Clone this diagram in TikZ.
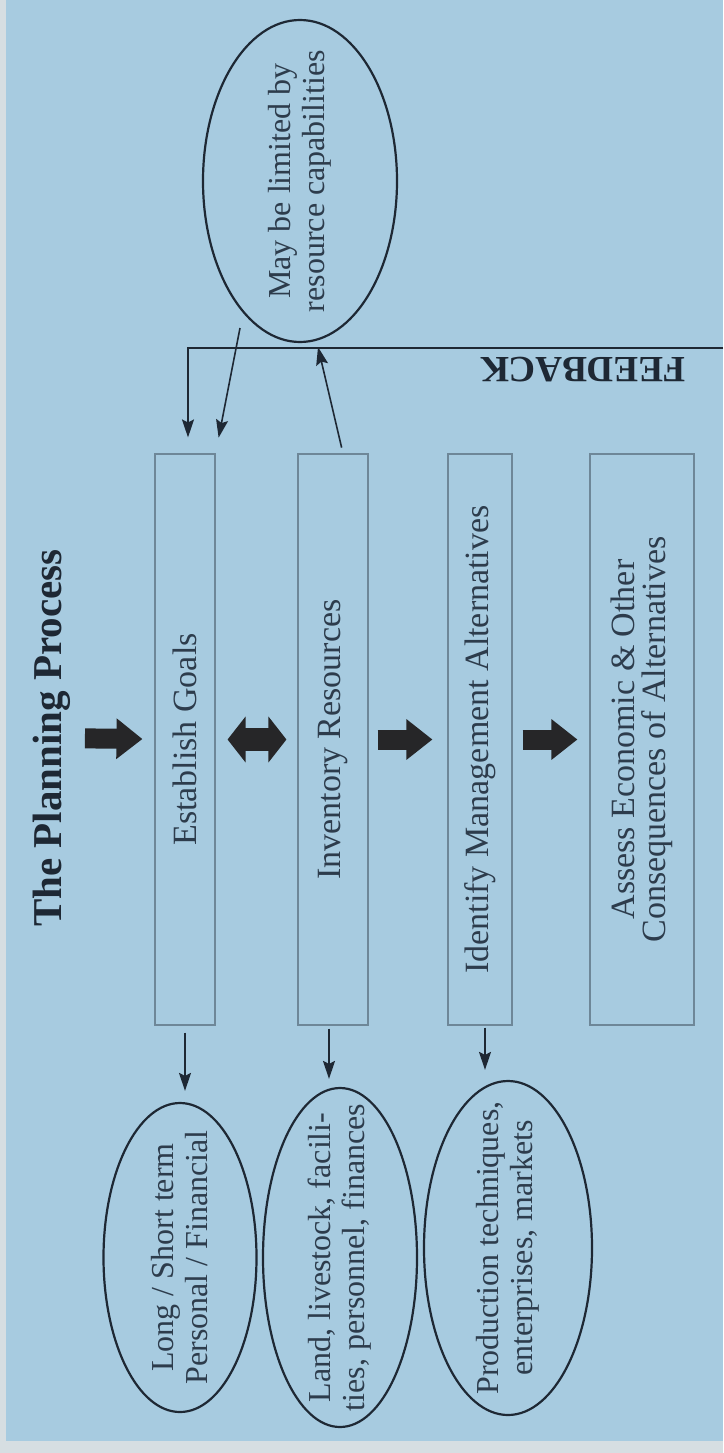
\documentclass[tikz,border=0pt]{standalone}
\usepackage{fontspec}
\setmainfont{Liberation Serif}
\usetikzlibrary{shapes.geometric,arrows.meta}
\definecolor{paper}{RGB}{167,203,224}
\definecolor{rim}{RGB}{214,222,226}
\definecolor{ink}{RGB}{30,40,52}
\definecolor{words}{RGB}{45,60,76}
\definecolor{frame}{RGB}{110,135,152}
\definecolor{heavy}{RGB}{38,38,40}
\tikzset{
    stage/.style = {
        draw=frame, line width=1.1pt, rectangle, rotate=90,
        minimum width=571pt, minimum height=#1, inner sep=0pt,
        text=words, align=center, font=\fontsize{34}{31}\selectfont
    },
    note/.style = {
        draw=ink, line width=2.2pt, ellipse, rotate=90,
        inner sep=-60pt, text=words, align=center,
        font=\fontsize{32}{34}\selectfont
    },
    feed/.style = {
        draw=ink, line width=1.6pt,
        -{Stealth[length=18pt,width=12pt,inset=3pt]}
    },
    push/.style = {
        draw=heavy, line width=20pt,
        -{Triangle[length=26pt,width=39pt]}
    },
    swap/.style = {
        draw=heavy, line width=23pt,
        {Triangle[length=18pt,width=45pt]}-{Triangle[length=18pt,width=45pt]}
    }
}

\begin{document}
\begin{tikzpicture}[x=1pt,y=-1pt]
    % Paper
    \useasboundingbox (0,0) rectangle (723,1453);
    \fill[paper] (0,0) rectangle (723,1453);
    \fill[rim] (0,0) rectangle (6,1453);
    \fill[rim] (0,1441) rectangle (723,1453);

    \newcommand\YB{739.5}
    %Title
    \node[rotate=90, inner sep=0pt, text=ink, font=\fontsize{41}{45}\selectfont\bfseries]
        (title) at (52,738) {The Planning Process};

    %Steps
    \node[stage=60pt] (box1) at (185,\YB) {Establish Goals};
    \node[stage=70pt] (box2) at (333,\YB) {Inventory Resources};
    \node[stage=64pt] (box3) at (480,\YB) {Identify Management Alternatives};
    \node[stage=104pt] (box4) at (642,\YB) {Assess Economic \& Other\\Consequences of Alternatives};

    %Block arrows
    \draw[push, shorten <=14pt, shorten >=12pt] (title) -- (box1);
    \draw[swap, shorten <=12pt, shorten >=11pt] (box1) -- (box2);
    \draw[push, shorten <=9pt, shorten >=15pt] (box2) -- (box3);
    \draw[push, shorten <=10pt, shorten >=12pt] (box3) -- (box4);

    %Notes
    \node[note, minimum width=322pt, minimum height=194pt] (lim) at (300,181)
        {May be limited by\\resource capabilities};
    \node[note, minimum width=309pt, minimum height=153pt] (ell1) at (180,1257.5)
        {Long / Short term\\Personal / Financial};
    \node[note, minimum width=339pt, minimum height=154pt] (ell2) at (340,1257.5)
        {Land, livestock, facili-\\ties, personnel, finances};
    \node[note, minimum width=334pt, minimum height=168pt] (ell3) at (508,1248)
        {Production techniques,\\enterprises, markets};

    \draw[feed, shorten <=7pt, shorten >=11pt] (box1.west) -- (box1.west |- ell1.east);
    \draw[feed, shorten <=3pt, shorten >=8pt] ([xshift=-4pt]box2.west) -- ([xshift=-4pt]box2.west |- ell2.east);
    \draw[feed, shorten <=2pt, shorten >=10pt] ([xshift=5pt]box3.west) -- ([xshift=5pt]box3.west |- ell3.east);

    %Feedback
    \coordinate (fbend) at (723,348);
    \draw[feed, shorten >=16pt] (fbend) -| ([xshift=3pt]box1.east);
    \node[rotate=180, text=ink, font=\fontsize{37}{40}\selectfont\bfseries] (fblabel) at (583,370) {FEEDBACK};

    \draw[feed, shorten >=16pt] ([shift={(-60,147)}]lim.center) -- (box1.south east);
    \draw[feed, shorten <=6pt] ([xshift=10pt]box2.east) -- ([shift={(18,166)}]lim.center);
\end{tikzpicture}
\end{document}
